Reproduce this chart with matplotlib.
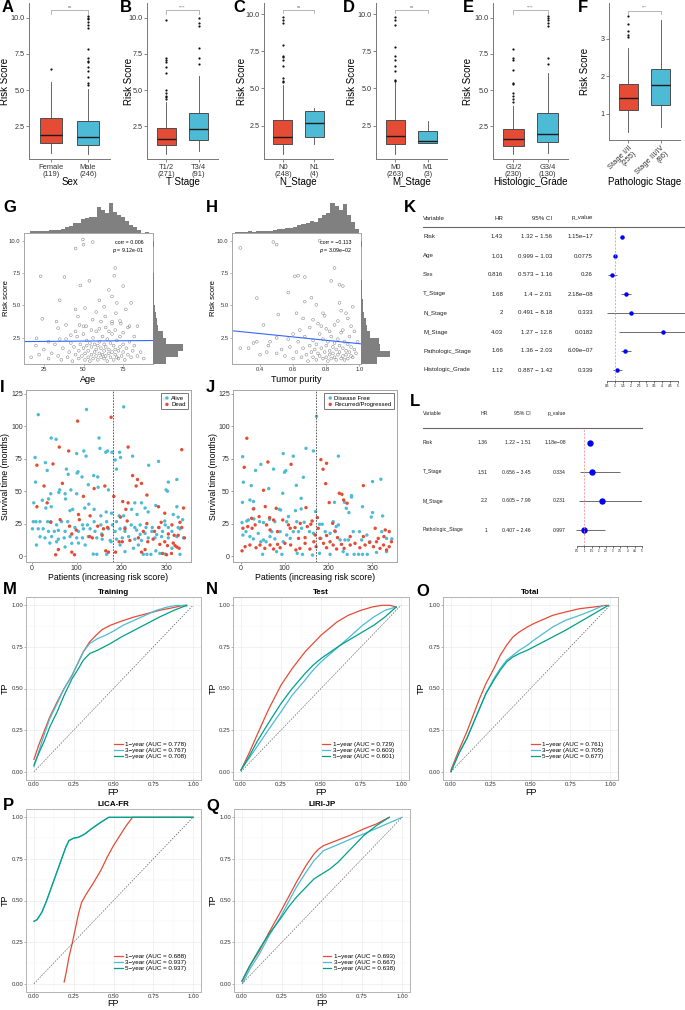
import numpy as np
import matplotlib
matplotlib.use("Agg")
import matplotlib.pyplot as plt
from matplotlib.lines import Line2D

plt.rcParams['font.family'] = ['Liberation Sans', 'DejaVu Sans']

RED = '#E64B35'
BLUE = '#4DBBD5'
GREEN = '#00A087'
W, H = 685, 1010

# ---------------- data: A-F boxplots ----------------
box_titles = ['Sex', 'T Stage', 'N_Stage', 'M_Stage', 'Histologic_Grade', 'Pathologic Stage']
box_groups = [['Female', 'Male'], ['T1/2', 'T3/4'], ['N0', 'N1'], ['M0', 'M1'],
              ['G1/2', 'G3/4'], ['Stage I/II', 'Stage III/IV']]
box_n = [[119, 246], [271, 91], [248, 4], [263, 3], [230, 130], [255, 86]]
box_sig = ['ns', '****', 'ns', 'ns', '****', '***']
# whislo, q1, median, q3, whishi
box_stats = [
    [[0.65, 1.38, 1.87, 3.05, 5.55], [0.6, 1.24, 1.78, 2.85, 5.1]],
    [[0.6, 1.2, 1.65, 2.4, 4.15], [0.8, 1.55, 2.35, 3.45, 5.95]],
    [[0.6, 1.25, 1.75, 2.85, 5.2], [1.25, 1.75, 2.65, 3.45, 3.7]],
    [[0.6, 1.25, 1.8, 2.9, 5.4], [1.3, 1.35, 1.45, 2.15, 2.8]],
    [[0.6, 1.15, 1.6, 2.35, 3.9], [0.65, 1.45, 2.0, 3.4, 6.2]],
    [[0.5, 1.1, 1.42, 1.78, 2.75], [0.65, 1.22, 1.77, 2.2, 3.5]],
]
box_fliers = [
    [[6.45], [5.35, 5.5, 5.9, 6.3, 6.6, 6.9, 7.0, 7.2, 7.8, 9.3, 9.5, 9.7, 9.9, 10.0, 10.1]],
    [[4.4, 4.5, 4.6, 4.8, 5.0, 6.2, 6.6, 6.9, 7.1, 7.2, 9.8], [6.8, 7.2, 7.9, 9.4, 9.6, 10.0]],
    [[5.4, 5.5, 5.7, 6.5, 6.9, 7.1, 7.2, 7.9, 9.4, 9.6, 9.8], []],
    [[5.5, 5.6, 6.2, 6.5, 6.9, 7.2, 7.8, 9.3, 9.6, 9.8], []],
    [[4.2, 4.4, 4.6, 4.8, 5.4, 5.5, 6.4, 7.1, 7.2, 7.8], [6.8, 7.2, 9.4, 9.6, 9.8, 10.0, 10.1]],
    [[3.05, 3.1, 3.2, 3.4, 3.6], []],
]

# ---------------- data: G / H ----------------
g_age = [17, 20, 22, 25, 28, 30, 32, 34, 36, 37, 39, 40, 41, 42, 43, 44, 45, 46, 47, 47, 48, 49, 50, 50,
         51, 51, 52, 52, 53, 53, 54, 54, 55, 55, 56, 56, 57, 57, 58, 58, 58, 59, 59, 60, 60, 61, 61, 62,
         62, 63, 63, 63, 64, 64, 65, 65, 66, 66, 67, 67, 68, 68, 69, 69, 70, 70, 71, 71, 72, 72, 73, 73,
         74, 75, 75, 76, 77, 78, 79, 80, 81, 82, 84, 86, 88, 60, 64, 66, 70, 75, 78, 55, 50, 45, 42, 35,
         28, 68, 73,
         49.6, 50, 45, 55.8, 23, 38, 48, 53.7, 70, 69.4, 75, 35, 24, 33, 45, 46.5, 51, 58, 63, 66, 68, 60,
         71, 80, 76.7, 63.7, 70.4, 55.8, 61, 68, 73.5, 79, 84, 82, 39, 47.5, 51.7, 34, 20.4]
g_risk = [1.0, 1.9, 1.2, 1.6, 0.9, 1.3, 2.0, 1.1, 0.8, 1.7, 2.4, 1.0, 1.4, 2.1, 0.7, 1.8, 1.2, 2.6, 1.5,
          0.9, 2.0, 1.1, 1.7, 2.8, 0.8, 1.3, 1.9, 2.3, 1.0, 1.5, 2.1, 0.7, 1.2, 1.8, 2.5, 0.9, 1.4, 2.0,
          1.1, 1.6, 3.0, 0.8, 1.9, 1.3, 2.2, 1.0, 1.7, 2.6, 1.2, 0.9, 1.5, 2.0, 1.1, 1.8, 2.4, 0.7, 1.3,
          1.6, 2.1, 1.0, 1.4, 2.8, 0.8, 1.9, 1.2, 1.6, 2.3, 1.0, 1.5, 0.9, 1.8, 2.6, 1.1, 1.4, 2.0, 0.8,
          1.7, 1.2, 2.2, 1.0, 1.5, 1.9, 1.1, 1.4, 0.9, 3.2, 3.3, 3.0, 3.1, 2.9, 3.3, 3.1, 3.4, 3.0, 2.7,
          2.4, 2.2, 3.6, 3.8,
          10.1, 9.7, 9.4, 9.9, 7.25, 7.2, 6.55, 6.9, 7.9, 7.3, 6.5, 5.4, 3.97, 3.76, 4.7, 4.15, 4.8, 4.5,
          4.9, 6.2, 5.7, 5.4, 5.2, 5.2, 4.7, 4.15, 4.4, 3.9, 3.76, 3.76, 3.6, 3.4, 3.4, 2.6, 3.5, 3.5, 3.4,
          3.25, 2.47]
g_fit = [2.2, 0.001]          # intercept, slope
g_corr = 'corr = 0.006'
g_p = '9.12e-01'
age_hist_start, age_hist_width = 16, 2.5
age_hist_counts = [2, 2, 2, 2, 2, 3, 3, 4, 5, 7, 8, 11, 12, 16, 17, 19, 19, 30, 26, 23, 34, 24, 21, 19,
                   14, 9, 7, 3, 0, 1]
g_risk_hist = [40, 75, 88, 40, 30, 16, 11, 8, 6, 4, 3, 2, 2, 2, 1, 0, 0, 0, 2, 1]

h_purity = [0.55, 0.58, 0.6, 0.62, 0.63, 0.65, 0.66, 0.67, 0.68, 0.69, 0.7, 0.71, 0.72, 0.72, 0.73, 0.74,
            0.74, 0.75, 0.76, 0.76, 0.77, 0.78, 0.78, 0.79, 0.8, 0.8, 0.81, 0.81, 0.82, 0.82, 0.83, 0.83,
            0.84, 0.84, 0.85, 0.85, 0.86, 0.86, 0.87, 0.87, 0.88, 0.88, 0.89, 0.89, 0.9, 0.9, 0.91, 0.91,
            0.92, 0.92, 0.93, 0.93, 0.94, 0.94, 0.95, 0.95, 0.96, 0.97, 0.98, 0.99, 0.64, 0.7, 0.75, 0.8,
            0.85, 0.9, 0.95, 0.6, 0.5, 0.45, 0.4, 0.38, 0.53, 0.57, 0.66, 0.72, 0.79, 0.87, 0.93, 0.97,
            0.82, 0.77,
            0.28, 0.48, 0.5, 0.76, 0.61, 0.63, 0.67, 0.57, 0.38, 0.85, 0.88, 0.9, 0.83, 0.51, 0.62, 0.67,
            0.71, 0.74, 0.78, 0.88, 0.92, 0.42, 0.36, 0.28, 0.33, 0.44, 0.5, 0.46, 0.96, 0.89]
h_risk = [1.1, 1.8, 0.9, 1.4, 2.2, 1.0, 1.7, 2.6, 1.2, 0.7, 1.9, 1.4, 2.3, 1.0, 1.6, 0.8, 2.0, 1.3, 2.8,
          1.1, 1.7, 0.9, 2.4, 1.4, 1.9, 1.0, 2.2, 0.7, 1.5, 1.2, 2.6, 0.9, 1.8, 1.3, 2.1, 1.0, 1.6, 0.8,
          2.4, 1.2, 1.9, 1.4, 0.9, 2.9, 1.1, 1.7, 2.2, 0.8, 1.5, 1.2, 2.0, 0.9, 1.4, 2.6, 1.1, 1.8, 1.0,
          1.6, 1.3, 2.2, 3.1, 3.3, 3.6, 3.2, 3.5, 3.1, 3.4, 2.8, 2.5, 1.9, 1.2, 2.2, 1.6, 2.4, 4.0, 3.9,
          4.2, 3.8, 4.0, 3.0, 3.0, 3.4,
          9.45, 9.9, 9.7, 10.0, 7.25, 7.3, 7.2, 6.0, 5.57, 7.9, 6.6, 6.5, 6.9, 4.3, 4.4, 5.3, 5.6, 5.05,
          4.4, 5.2, 4.4, 3.5, 2.1, 1.7, 1.7, 1.4, 1.3, 2.2, 4.9, 4.6]
h_fit = [3.35, -1.3]
h_corr = 'corr = \u22120.113'
h_p = '3.09e\u221202'
pur_hist_start, pur_hist_width = 0.25, 0.025
pur_hist_counts = [1, 1, 1, 2, 1, 2, 2, 2, 2, 3, 5, 5, 6, 6, 7, 9, 10, 11, 13, 12, 17, 20, 22, 33, 30,
                   26, 32, 20, 12, 5]
h_risk_hist = [50, 92, 62, 58, 30, 18, 15, 10, 8, 5, 3, 2, 2, 1, 1, 0, 0, 0, 2, 1]
risk_hist_start, risk_hist_width = 0.5, 0.5

# ---------------- data: K / L forest ----------------
k_vars = ['Risk', 'Age', 'Sex', 'T_Stage', 'N_Stage', 'M_Stage', 'Pathologic_Stage', 'Histologic_Grade']
k_hr = [1.43, 1.01, 0.816, 1.68, 2, 4.03, 1.66, 1.12]
k_lo = [1.32, 0.999, 0.573, 1.4, 0.491, 1.27, 1.36, 0.887]
k_hi = [1.56, 1.03, 1.16, 2.01, 8.18, 12.8, 2.03, 1.42]
k_p = ['1.15e\u221217', '0.0775', '0.26', '2.18e\u221208', '0.333', '0.0182', '6.09e\u221207', '0.339']
l_vars = ['Risk', 'T_Stage', 'M_Stage', 'Pathologic_Stage']
l_hr = [1.36, 1.51, 2.2, 1]
l_lo = [1.22, 0.656, 0.605, 0.407]
l_hi = [1.51, 3.45, 7.99, 2.46]
l_p = ['1.18e\u221208', '0.334', '0.231', '0.997']

# ---------------- data: I / J survival scatter ----------------
i_alive_x = [14, 122, 205, 296, 43, 54, 150, 7, 30, 34, 100, 116, 121, 152, 165, 169, 179, 186, 196, 198,
             189, 225, 283, 261, 8, 77, 81, 103, 101, 138, 147, 112, 305, 324, 300, 303,
             62, 60, 42, 74, 87, 100, 126, 127, 148, 171, 23, 4, 37, 31, 43, 75, 85, 91, 118, 139, 178,
             154, 166, 195, 230, 245, 253, 235, 277, 260, 324, 223, 205, 297, 316, 327, 337,
             3, 9, 18, 35, 42, 66, 80, 139, 167, 189, 55, 113, 124, 154, 180, 222, 242, 298, 96, 208,
             230, 255, 269, 283, 305, 327, 1, 14, 25, 115, 130, 171, 197, 234, 331, 37, 50, 59, 74, 104,
             141, 186, 208, 268, 292, 313, 156, 242, 253, 279, 18, 44, 85, 126, 216, 290, 324, 29, 72,
             100, 113, 145, 202, 260, 275, 305, 339, 59, 157, 189, 230, 175, 245, 40, 55, 104, 177, 10,
             119, 197, 238, 74, 89, 227, 313, 277, 137, 145, 167, 208, 249, 257, 266, 286, 298, 331]
i_alive_y = [109, 113, 115, 121, 91, 90, 91, 76, 72, 66, 79, 81, 77, 83, 80, 81, 80, 74, 80, 76, 67, 77,
             73, 70, 57, 67, 63, 65, 64, 62, 61, 61, 57, 59, 51, 50,
             51, 49, 48, 48, 51, 48, 55, 40, 53, 51, 43, 41, 44, 37, 38, 44, 35, 36, 37, 36, 33, 31, 34,
             31, 41, 41, 37, 32, 39, 34, 38, 36, 31, 27, 32, 30, 28,
             26.5, 26.5, 26.5, 26.5, 26.5, 26.5, 26.5, 26.5, 26.5, 26.5, 24, 24, 24, 24, 24, 24, 24, 24,
             22, 22, 22, 22, 22, 22, 22, 22, 21, 21, 21, 21, 21, 21, 21, 20, 21, 19, 19, 19.8, 19, 19, 19,
             19, 19, 19, 19, 19, 17, 16.7, 17.5, 16.5, 14.9, 15, 15, 15, 15, 15, 15, 14, 14, 14, 14, 14,
             14, 14, 14, 14, 14, 13, 13, 13, 13, 12, 12, 10, 11, 10, 11, 8.5, 8.5, 8.5, 8.5, 7, 9.8, 6,
             6, 4, 1.5, 1.3, 1.3, 3.4, 1.3, 1.3, 1.3, 2, 1.5, 1.3]
i_dead_x = [102, 177, 61, 82, 215, 335, 11, 47, 225, 236, 245, 68, 27, 163, 139, 233, 115, 183, 257, 34,
            203, 215, 11, 210, 283, 297, 339, 104, 130, 63, 42, 106, 84, 99, 89, 129, 135, 147, 160, 169,
            157, 198, 213, 208, 257, 249, 274, 289, 284, 313, 331, 335, 305, 318, 327, 341, 195, 202,
            219, 238, 259, 271, 286, 297, 303, 316, 324, 329, 320, 292, 301, 312, 253, 245, 165, 171,
            187, 53, 59, 95, 89]
i_dead_y = [104, 107, 84, 81, 84, 82, 70, 71, 62, 59, 56, 56, 54, 54, 52, 54, 46, 46, 47, 41, 42, 41, 38,
            36, 38, 33, 37, 32, 31, 28, 26, 28, 23, 20, 17, 15, 14, 23, 21, 22, 16, 30, 27, 21, 25, 19,
            19, 26, 22, 24, 26, 22, 17, 16, 16, 14, 11, 11, 12, 14, 11, 13, 9, 11, 8, 10, 7, 6, 8, 2, 1,
            2, 5, 3, 4, 3, 3, 1, 5, 1, 3]
i_cut = 181

j_free_x = [291, 173, 4.5, 46, 34, 97, 120, 149, 166, 223, 75, 100, 103, 6, 24, 64, 96, 127, 143, 138, 4,
            21, 29, 30, 88, 91, 125, 138, 171, 214, 253, 253, 237, 241, 247, 278, 301, 320, 301, 298,
            324, 3, 14, 17.5, 30, 43, 52, 66, 78, 105, 109, 128, 145, 180, 186, 211, 218, 223, 5, 12, 21,
            29, 40, 46, 52, 58, 67, 71, 78, 90, 97, 105, 113, 120, 132, 139, 157, 166, 183, 193, 204,
            216, 227, 238, 246, 257, 271, 276, 288, 295, 322, 333, 345, 50, 82, 94, 129, 141, 164, 180,
            204, 234, 243, 259, 269, 278, 289, 310, 333]
j_free_y = [121.6, 107.7, 76.6, 70.7, 66, 79, 77, 83, 81, 77, 67, 64.6, 65.8, 56.9, 54.3, 52, 48.4, 54.5,
            60.7, 44.5, 41.4, 43.2, 42, 36.6, 36, 35.5, 35, 36.3, 34.3, 41.4, 45.5, 46.6, 41.4, 36.8,
            33.5, 38, 57.4, 59.2, 33.5, 30.1, 30.9, 25.8, 27, 27.8, 28.6, 26.5, 25.8, 28.3, 26.5, 26.5,
            30.4, 26.5, 26, 24.5, 24.5, 26.5, 22.7, 24, 16.2, 18.8, 15, 13.2, 17.5, 11, 12.4, 11, 15,
            18.8, 13.2, 18.8, 11, 16.2, 13.6, 18.8, 18.8, 21.4, 18.8, 17.5, 13.6, 18.8, 17.5, 18.8, 12.4,
            12.4, 12.4, 18.8, 18.8, 12.4, 16.2, 11, 18.8, 13.6, 13.2, 1.3, 3.4, 1.3, 2.1, 1.3, 0.8, 2.1,
            1.3, 3.4, 1.3, 1.3, 1.3, 1.3, 1.3, 2.8, 3.4]
j_rec_x = [14, 8, 62, 52, 56, 115, 149, 81, 183, 188, 196, 194, 225, 231, 235, 243, 202, 280, 29, 25, 42,
           5, 16, 26, 33, 59, 66, 75, 67, 84, 96, 109, 113, 124, 136, 152, 163, 160, 175, 177, 210, 215,
           307, 330, 339, 3, 10, 21, 35, 44, 55, 67, 75, 84, 90, 101, 114, 126, 135, 147, 158, 167, 172,
           181, 189, 196, 204, 211, 219, 230, 236, 250, 261, 272, 284, 294, 303, 310, 318, 326, 333, 339,
           344, 314, 327, 280, 250, 221, 196, 170, 147, 132]
j_rec_y = [90.8, 68.4, 72.5, 50.7, 38.1, 70.7, 37.3, 36.8, 74.3, 66.9, 71.5, 55.8, 48.4, 47.6, 43.2,
           40.7, 41.2, 54.3, 36.3, 29.1, 30.4, 21.4, 22.7, 21.4, 24, 24, 29.6, 27.8, 20.1, 18.8, 27.8,
           24, 21.4, 21.9, 25.2, 22.7, 27, 24.5, 29.6, 21.4, 25.2, 19.3, 21.4, 20.1, 18.8, 4, 7.2, 8.5,
           6.4, 8.5, 5.9, 8.5, 5.4, 9, 6.4, 9.8, 8.5, 4.7, 5.9, 9.8, 5.4, 11, 7.2, 13.6, 9.8, 6.4, 11,
           8.5, 5.4, 9, 5.9, 8.5, 9.8, 6.4, 8.5, 10.5, 7.2, 11, 5.9, 8.5, 4.7, 7.2, 11, 13.6, 15, 15, 15,
           14.2, 15.8, 16.2, 14.2, 13.6]
j_cut = 172

# ---------------- data: M-Q ROC ----------------
roc_titles = ['Training', 'Test', 'Total', 'LICA-FR', 'LIRI-JP']
roc_auc = [['0.778', '0.767', '0.708'], ['0.729', '0.603', '0.601'], ['0.761', '0.705', '0.677'],
           ['0.688', '0.937', '0.937'], ['0.693', '0.667', '0.638']]
roc_fp = [
    [[0, 0.03, 0.063, 0.1, 0.146, 0.19, 0.24, 0.28, 0.31, 0.35, 0.39, 0.43, 0.48, 0.55, 0.63, 0.71, 0.79,
      0.87, 0.94, 0.96],
     [0, 0.03, 0.063, 0.1, 0.146, 0.19, 0.24, 0.28, 0.31, 0.35, 0.40, 0.45, 0.50, 0.56, 0.63, 0.70, 0.77,
      0.84, 0.90, 0.96],
     [0, 0.03, 0.063, 0.1, 0.146, 0.19, 0.24, 0.28, 0.31, 0.35, 0.40, 0.44, 0.48, 0.55, 0.63, 0.71, 0.79,
      0.88, 0.96]],
    [[0, 0.05, 0.1, 0.17, 0.25, 0.32, 0.4, 0.45, 0.5, 0.55, 0.6, 0.67, 0.75, 0.82, 0.88, 0.93, 0.97],
     [0, 0.05, 0.1, 0.17, 0.25, 0.32, 0.4, 0.45, 0.5, 0.56, 0.62, 0.69, 0.76, 0.83, 0.9, 0.97],
     [0, 0.05, 0.1, 0.17, 0.25, 0.32, 0.4, 0.45, 0.5, 0.56, 0.62, 0.69, 0.76, 0.83, 0.9, 0.97]],
    [[0, 0.05, 0.1, 0.14, 0.18, 0.22, 0.27, 0.31, 0.35, 0.39, 0.43, 0.48, 0.52, 0.58, 0.64, 0.72, 0.81,
      0.9, 0.98],
     [0, 0.05, 0.1, 0.14, 0.18, 0.22, 0.27, 0.31, 0.35, 0.39, 0.43, 0.48, 0.52, 0.58, 0.64, 0.72, 0.81,
      0.89, 0.96],
     [0, 0.05, 0.1, 0.14, 0.18, 0.22, 0.27, 0.31, 0.35, 0.39, 0.43, 0.48, 0.52, 0.58, 0.64, 0.72, 0.81,
      0.9, 0.99]],
    [[0.19, 0.205, 0.22, 0.24, 0.26, 0.28, 0.30, 0.33, 0.37, 0.42, 0.46, 0.50, 0.54, 0.58, 0.62, 1.0],
     [0, 0.02, 0.05, 0.08, 0.11, 0.14, 0.17, 0.20, 0.22, 0.25, 0.28, 0.32, 0.36, 0.42, 0.47, 1.0],
     [0, 0.02, 0.05, 0.08, 0.11, 0.14, 0.17, 0.20, 0.22, 0.25, 0.28, 0.32, 0.36, 0.42, 0.47, 1.0]],
    [[0, 0.05, 0.11, 0.17, 0.24, 0.29, 0.34, 0.40, 0.45, 0.48, 0.51, 0.55, 0.59, 0.67, 0.76, 0.84, 0.92],
     [0.006, 0.05, 0.11, 0.17, 0.24, 0.29, 0.34, 0.40, 0.45, 0.48, 0.51, 0.56, 0.61, 0.68, 0.76, 0.88,
      1.0],
     [0, 0.05, 0.11, 0.17, 0.24, 0.29, 0.34, 0.40, 0.45, 0.50, 0.55, 0.60, 0.65, 0.70, 0.76, 0.84, 0.92]],
]
roc_tp = [
    [[0.074, 0.16, 0.24, 0.33, 0.42, 0.50, 0.58, 0.66, 0.72, 0.78, 0.82, 0.855, 0.88, 0.905, 0.93, 0.95,
      0.97, 0.985, 1.0, 1.0],
     [0.03, 0.12, 0.22, 0.32, 0.41, 0.50, 0.58, 0.66, 0.72, 0.77, 0.80, 0.82, 0.845, 0.88, 0.91, 0.94,
      0.97, 0.99, 1.0, 0.996],
     [0.04, 0.11, 0.18, 0.27, 0.36, 0.46, 0.56, 0.62, 0.67, 0.71, 0.73, 0.75, 0.77, 0.81, 0.85, 0.89,
      0.93, 0.97, 1.0]],
    [[0.01, 0.11, 0.22, 0.37, 0.52, 0.62, 0.72, 0.77, 0.82, 0.86, 0.9, 0.94, 0.97, 0.99, 1.0, 1.0, 0.99],
     [0.01, 0.08, 0.15, 0.25, 0.36, 0.46, 0.55, 0.61, 0.66, 0.71, 0.76, 0.82, 0.88, 0.93, 0.97, 0.99],
     [0.01, 0.09, 0.18, 0.29, 0.41, 0.50, 0.59, 0.64, 0.68, 0.72, 0.76, 0.80, 0.84, 0.88, 0.93, 0.99]],
    [[0.01, 0.13, 0.24, 0.34, 0.44, 0.53, 0.62, 0.70, 0.76, 0.81, 0.84, 0.87, 0.89, 0.915, 0.94, 0.96,
      0.98, 0.99, 1.0],
     [0.0, 0.11, 0.2, 0.29, 0.38, 0.47, 0.56, 0.62, 0.67, 0.70, 0.73, 0.76, 0.79, 0.83, 0.87, 0.91, 0.94,
      0.97, 1.0],
     [0.0, 0.11, 0.2, 0.29, 0.38, 0.47, 0.55, 0.61, 0.66, 0.69, 0.71, 0.73, 0.75, 0.78, 0.81, 0.85, 0.90,
      0.95, 1.0]],
    [[0.01, 0.08, 0.16, 0.24, 0.33, 0.42, 0.49, 0.54, 0.60, 0.68, 0.76, 0.83, 0.89, 0.95, 1.0, 1.0],
     [0.375, 0.385, 0.43, 0.50, 0.58, 0.66, 0.74, 0.82, 0.86, 0.875, 0.88, 0.90, 0.93, 0.97, 1.0, 1.0],
     [0.375, 0.385, 0.43, 0.50, 0.58, 0.66, 0.74, 0.82, 0.86, 0.875, 0.88, 0.90, 0.93, 0.97, 1.0, 1.0]],
    [[0.016, 0.11, 0.2, 0.31, 0.43, 0.52, 0.61, 0.71, 0.78, 0.81, 0.83, 0.845, 0.86, 0.89, 0.93, 0.96,
      1.0],
     [0.006, 0.09, 0.18, 0.29, 0.40, 0.49, 0.58, 0.67, 0.74, 0.77, 0.80, 0.82, 0.84, 0.87, 0.90, 0.95,
      1.0],
     [0.016, 0.11, 0.21, 0.30, 0.39, 0.46, 0.52, 0.58, 0.63, 0.66, 0.69, 0.73, 0.78, 0.83, 0.89, 0.95,
      1.0]],
]

fig = plt.figure(figsize=(W / 100, H / 100), dpi=100)


def px_axes(x0, y0, x1, y1):
    return fig.add_axes([x0 / W, 1 - y1 / H, (x1 - x0) / W, (y1 - y0) / H])


def place_labels(ax, rect, ylab_right=None, xlab_top=None):
    # put axis titles at given pixel positions
    x0, y0, x1, y1 = rect
    if ylab_right is not None:
        ax.yaxis.set_label_coords((ylab_right - x0) / (x1 - x0), 0.5)
    if xlab_top is not None:
        ax.xaxis.set_label_coords(0.5, (y1 - xlab_top) / (y1 - y0))


def letter(x, y, s):
    fig.text(x / W, 1 - y / H, s, fontsize=12, fontweight='bold', va='center', ha='left')


# ---------------- row 1 boxplots ----------------
box_rects = [(29, 3, 110, 159), (147, 3, 218, 159), (264, 3, 333, 159),
             (376, 3, 447, 159), (493, 3, 568, 159), (609, 3, 680, 140)]
box_ylab_x = [10, 134, 247, 357, 473, 590]
box_ylims = [(0.25, 11.0), (0.25, 11.0), (0.25, 10.75), (0.25, 10.75), (0.25, 11.0), (0.3, 3.95)]
box_brk = [10.5, 10.5, 10.3, 10.3, 10.5, 3.74]
for k in range(6):
    ax = px_axes(*box_rects[k])
    stats = []
    for s, f in zip(box_stats[k], box_fliers[k]):
        stats.append(dict(whislo=s[0], q1=s[1], med=s[2], q3=s[3], whishi=s[4], fliers=f))
    bp = ax.bxp(stats, positions=[1, 2], widths=0.6, patch_artist=True, showcaps=False,
                boxprops=dict(edgecolor='#4d4d4d', linewidth=0.7),
                medianprops=dict(color='#1a1a1a', linewidth=1.0),
                whiskerprops=dict(color='#4d4d4d', linewidth=0.6),
                flierprops=dict(marker='o', markersize=1.6, markerfacecolor='#111111',
                                markeredgecolor='none'))
    for patch, col in zip(bp['boxes'], [RED, BLUE]):
        patch.set_facecolor(col)
    ax.set_xlim(0.4, 2.6)
    ax.set_ylim(*box_ylims[k])
    yb = box_brk[k]
    dy = 0.022 * (box_ylims[k][1] - box_ylims[k][0])
    ax.plot([1, 1, 2, 2], [yb - dy, yb, yb, yb - dy], color='#999999', lw=0.5)
    ax.text(1.5, yb + dy * 0.3, box_sig[k], fontsize=3, color='#666666', ha='center', va='bottom')
    if k < 5:
        ax.set_yticks([2.5, 5, 7.5, 10])
        ax.set_yticklabels(['2.5', '5.0', '7.5', '10.0'])
    else:
        ax.set_yticks([1, 2, 3])
    labels = [f'{g}\n({n})' for g, n in zip(box_groups[k], box_n[k])]
    ax.set_xticks([1, 2])
    if k < 5:
        ax.set_xticklabels(labels, fontsize=5.4, linespacing=1.1)
    else:
        ax.set_xticklabels(labels, fontsize=5.4, rotation=45, ha='right', rotation_mode='anchor',
                           linespacing=1.0)
    ax.tick_params(axis='y', labelsize=5.2, length=2, width=0.5, colors='#555555', labelcolor='#333333',
                   pad=1.0)
    ax.tick_params(axis='x', length=2, width=0.5, colors='#555555', labelcolor='#333333', pad=1.5)
    for sp in ['top', 'right']:
        ax.spines[sp].set_visible(False)
    for sp in ['left', 'bottom']:
        ax.spines[sp].set_color('#777777')
        ax.spines[sp].set_linewidth(0.7)
    ax.set_ylabel('Risk Score', fontsize=7)
    ax.set_xlabel(box_titles[k], fontsize=7)
    place_labels(ax, box_rects[k], box_ylab_x[k], 177)

for xl, s in zip([2, 120, 233, 343, 463, 578], 'ABCDEF'):
    letter(xl, 8, s)


# ---------------- G / H scatter with marginals ----------------
def marg_scatter(main, top, right, xs, ys, xlim, xticks, xtl, xlabel, fit, corr, pval,
                 top_start, top_w, top_counts, right_counts, ylab_x):
    ax = px_axes(*main)
    ax.scatter(xs, ys, s=4, facecolors='none', edgecolors='#808080', linewidths=0.35)
    fx = np.array(xlim)
    ax.plot(fx, fit[0] + fit[1] * fx, color='#3366FF', lw=0.8)
    ax.set_xlim(*xlim)
    ax.set_ylim(0.48, 10.6)
    ax.set_yticks([2.5, 5, 7.5, 10])
    ax.set_yticklabels(['2.5', '5.0', '7.5', '10.0'])
    ax.set_xticks(xticks)
    ax.set_xticklabels(xtl)
    ax.tick_params(labelsize=4.2, length=1.5, width=0.4, colors='#777777', labelcolor='#333333', pad=1)
    for sp in ax.spines.values():
        sp.set_color('#a6a6a6')
        sp.set_linewidth(0.7)
    ax.set_ylabel('Risk score', fontsize=5.5)
    ax.set_xlabel(xlabel, fontsize=6.5)
    place_labels(ax, main, ylab_x, 375)
    ax.text(0.93, 0.93, corr, transform=ax.transAxes, fontsize=3.8, ha='right', va='center')
    ax.text(0.93, 0.87, '$\\it{p}$ = ' + pval, transform=ax.transAxes, fontsize=3.8, ha='right',
            va='center')

    at = px_axes(*top)
    edges = top_start + top_w * np.arange(len(top_counts))
    at.bar(edges, top_counts, width=top_w, align='edge', color='#808080', edgecolor='none')
    at.set_xlim(*xlim)
    at.set_ylim(0, max(top_counts) * 1.05)
    at.axis('off')

    ar = px_axes(*right)
    redges = risk_hist_start + risk_hist_width * np.arange(len(right_counts))
    ar.barh(redges, right_counts, height=risk_hist_width, align='edge', color='#808080',
            edgecolor='none')
    ar.set_ylim(0.48, 10.6)
    ar.set_xlim(0, max(right_counts) * 1.08)
    ar.axis('off')


marg_scatter((24, 233, 153, 364), (24, 202, 153, 233), (153, 233, 185, 364), g_age, g_risk,
             (12.5, 93.8), [25, 50, 75], ['25', '50', '75'], 'Age', g_fit, g_corr, g_p,
             age_hist_start, age_hist_width, age_hist_counts, g_risk_hist, 9.5)
marg_scatter((232, 233, 361, 364), (232, 202, 361, 233), (361, 233, 392, 364), h_purity, h_risk,
             (0.23, 1.01), [0.4, 0.6, 0.8, 1.0], ['0.4', '0.6', '0.8', '1.0'], 'Tumor purity',
             h_fit, h_corr, h_p, pur_hist_start, pur_hist_width, pur_hist_counts, h_risk_hist, 217)
letter(3, 208, 'G')
letter(206, 208, 'H')


# ---------------- K / L forest ----------------
def forest(names, hr, lo, hi, pv, cols, y_head, y_line, line_x1, y0, step, fs, ax_rect, xlim,
           ms, tick_fs):
    nx, hx, cx, px = cols
    for txt, x, ha in [('Variable', nx, 'left'), ('HR', hx, 'right'), ('95% CI', cx, 'right'),
                       ('p_value', px, 'right')]:
        fig.text(x / W, 1 - y_head / H, txt, fontsize=fs, ha=ha, va='center', color='#222222')
    fig.add_artist(Line2D([nx / W, line_x1 / W], [1 - y_line / H, 1 - y_line / H], color='#666666',
                          lw=0.8))
    for i in range(len(names)):
        yy = 1 - (y0 + step * i) / H
        fig.text(nx / W, yy, names[i], fontsize=fs, ha='left', va='center', color='#222222')
        fig.text(hx / W, yy, f'{hr[i]}', fontsize=fs, ha='right', va='center', color='#222222')
        fig.text(cx / W, yy, f'{lo[i]} \u2212 {hi[i]}', fontsize=fs, ha='right', va='center',
                 color='#222222')
        fig.text(px / W, yy, pv[i], fontsize=fs, ha='right', va='center', color='#222222')
    ax = px_axes(*ax_rect)
    n = len(names)
    rows = np.arange(n)
    ax.hlines(rows, lo, hi, color='#555555', lw=0.6)
    ax.plot(hr, rows, 'o', color='#0000FF', ms=ms, mec='none')
    ax.axvline(1, color='#F08080', lw=0.5, ls=(0, (3, 2)))
    ax.set_xlim(*xlim)
    top_pad = (y0 - ax_rect[1]) / step
    bot_pad = (ax_rect[3] - y0) / step
    ax.set_ylim(bot_pad, -top_pad)
    for sp in ['top', 'right', 'left']:
        ax.spines[sp].set_visible(False)
    ax.spines['bottom'].set_bounds(0.5, 5)
    ax.spines['bottom'].set_linewidth(0.5)
    ax.spines['bottom'].set_color('#333333')
    ticks = np.arange(0.5, 5.01, 0.5)
    ax.set_xticks(ticks)
    ax.set_xticklabels([f'{t:g}' for t in ticks])
    ax.set_yticks([])
    ax.tick_params(axis='x', labelsize=tick_fs, length=1.5, width=0.4, pad=1)


forest(k_vars, k_hr, k_lo, k_hi, k_p, (423, 503, 552, 593), 218, 227, 685, 237, 19, 4.4,
       (605, 227, 685, 381), (0.373, 5.44), 3.2, 2.3)
forest(l_vars, l_hr, l_lo, l_hi, l_p, (423, 488, 531, 566), 414, 428, 642, 443, 29, 3.7,
       (575, 428, 642, 546), (0.34, 5.02), 4.6, 2.0)
letter(404, 208, 'K')
letter(410, 401, 'L')


# ---------------- I / J survival scatter ----------------
def surv_panel(rect, xa, ya, xb, yb, cut, labels, xlim, ylab_x):
    ax = px_axes(*rect)
    ax.scatter(xa, ya, s=6, color=BLUE, edgecolors='none', label=labels[0])
    ax.scatter(xb, yb, s=6, color=RED, edgecolors='none', label=labels[1])
    ax.axvline(cut, color='#444444', lw=0.6, ls=(0, (2, 1.5)))
    ax.set_xlim(*xlim)
    ax.set_ylim(-4.6, 128)
    ax.set_xticks([0, 100, 200, 300])
    ax.set_yticks([0, 25, 50, 75, 100, 125])
    ax.tick_params(labelsize=5.0, length=1.5, width=0.5, colors='#777777', labelcolor='#333333',
                   pad=0.8)
    for sp in ax.spines.values():
        sp.set_color('#a6a6a6')
        sp.set_linewidth(0.7)
    ax.set_xlabel('Patients (increasing risk score)', fontsize=6.3)
    ax.set_ylabel('Survival time (months)', fontsize=6.3)
    place_labels(ax, rect, ylab_x, 573)
    leg = ax.legend(loc='upper right', fontsize=4.3, frameon=True, fancybox=False,
                    borderpad=0.4, handletextpad=0.1, labelspacing=0.2, handlelength=1.2,
                    borderaxespad=0.5)
    leg.get_frame().set_edgecolor('#555555')
    leg.get_frame().set_linewidth(0.7)


surv_panel((26, 390, 191, 562), i_alive_x, i_alive_y, i_dead_x, i_dead_y, i_cut, ['Alive', 'Dead'],
           (-13.4, 355.7), 10)
surv_panel((233, 390, 397, 562), j_free_x, j_free_y, j_rec_x, j_rec_y, j_cut,
           ['Disease Free', 'Recurred/Progressed'], (-17.6, 356.8), 218)
letter(0, 388, 'I')
letter(206, 388, 'J')

# ---------------- ROC panels ----------------
roc_rects = [(26, 597, 201, 780), (233, 597, 409, 780), (443, 597, 618, 780),
             (26, 809, 201, 992), (234, 809, 410, 992)]
roc_ylab_x = [10, 218, 426, 10, 218]
roc_xlab_y = [788, 788, 788, 999.5, 999.5]
for k in range(5):
    ax = px_axes(*roc_rects[k])
    ax.set_axisbelow(True)
    for fx, ty, col, yr, auc in zip(roc_fp[k], roc_tp[k], [RED, BLUE, GREEN], [1, 3, 5], roc_auc[k]):
        ax.plot(fx, ty, color=col, lw=0.9, label=f'{yr}\u2212year (AUC = {auc})')
    ax.plot([0, 1], [0, 1], color='#555555', lw=0.5, ls=(0, (2, 2)))
    ax.set_xlim(-0.05, 1.05)
    ax.set_ylim(-0.05, 1.05)
    tk = [0, 0.25, 0.5, 0.75, 1.0]
    ax.set_xticks(tk)
    ax.set_yticks(tk)
    ax.set_xticklabels(['0.00', '0.25', '0.50', '0.75', '1.00'])
    ax.set_yticklabels(['0.00', '0.25', '0.50', '0.75', '1.00'])
    ax.set_xticks([0.125, 0.375, 0.625, 0.875], minor=True)
    ax.set_yticks([0.125, 0.375, 0.625, 0.875], minor=True)
    ax.grid(True, which='major', color='#ebebeb', lw=0.5)
    ax.grid(True, which='minor', color='#f4f4f4', lw=0.35)
    ax.tick_params(which='major', labelsize=4.3, length=1.2, width=0.4, colors='#777777',
                   labelcolor='#333333', pad=0.5)
    ax.tick_params(which='minor', length=0)
    for sp in ax.spines.values():
        sp.set_color('#b3b3b3')
        sp.set_linewidth(0.7)
    ax.set_xlabel('FP', fontsize=6.5)
    ax.set_ylabel('TP', fontsize=6.5)
    place_labels(ax, roc_rects[k], roc_ylab_x[k], roc_xlab_y[k])
    ax.set_title(roc_titles[k], fontsize=5.8, fontweight='bold', pad=2.5)
    ax.legend(loc='lower right', bbox_to_anchor=(0.93, 0.1), fontsize=4.5, frameon=False,
              handlelength=1.4, handletextpad=0.4, labelspacing=0.12, borderaxespad=0)

letter(3, 590, 'M')
letter(206, 590, 'N')
letter(416, 592, 'O')
letter(3, 806, 'P')
letter(206, 806, 'Q')

fig.savefig('out.png', dpi=100)
